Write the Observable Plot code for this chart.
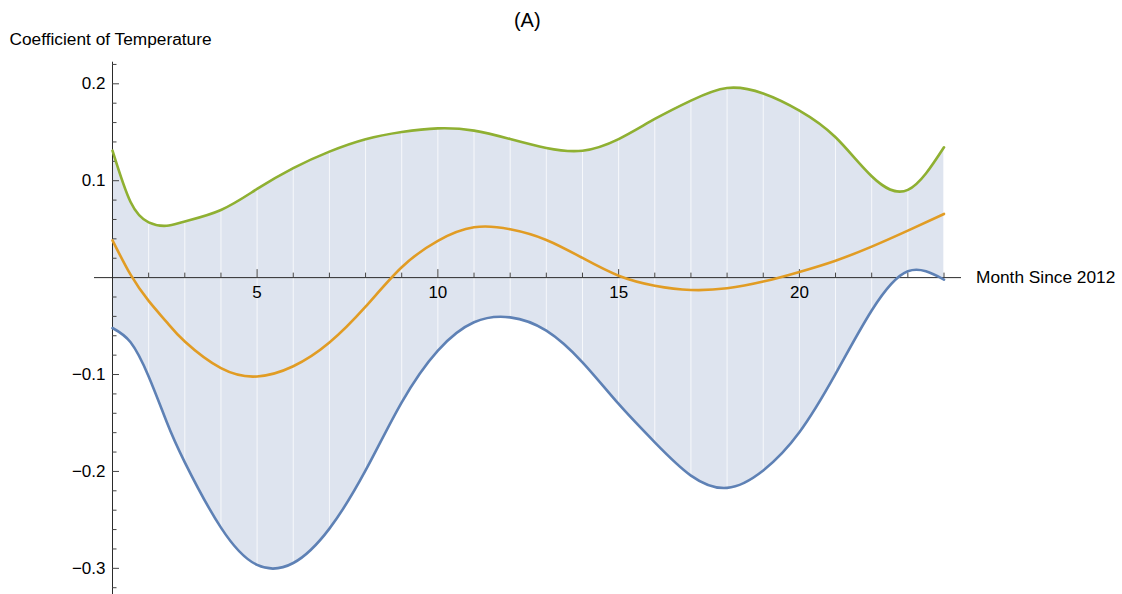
<!DOCTYPE html>
<html>
<head>
<meta charset="utf-8">
<script src="https://cdn.jsdelivr.net/npm/d3@7"></script>
<script src="https://cdn.jsdelivr.net/npm/@observablehq/plot@0.6"></script>
<style>
  body { margin: 0; background: #fff; }
  #chart svg { display: block; }
</style>
</head>
<body>
<div id="chart"></div>
<script>
// Labels
const title = "(A)";
const yLabel = "Coefficient of Temperature";
const xLabel = "Month Since 2012";

// Months since 2012 (half-month samples where the curves bend sharply)
const months = [1, 1.5, 2, 2.5, 3, 4, 5, 6, 7, 8, 9, 10, 11, 12,
                13, 14, 15, 16, 17, 18, 19, 20, 21, 22, 23, 24];

// Upper band (green)
const upper = [0.131, 0.078, 0.057, 0.0535, 0.058, 0.0698, 0.0915, 0.113, 0.130, 0.1428, 0.1503, 0.154, 0.1517, 0.143,
               0.1338, 0.131, 0.143, 0.1637, 0.1827, 0.1957, 0.190, 0.1723, 0.1448, 0.1046, 0.0905, 0.1345];

// Coefficient estimate (orange)
const estimate = [0.0385, 0.003, -0.024, -0.046, -0.066, -0.0935, -0.102, -0.0915, -0.067, -0.030, 0.0107, 0.038, 0.0519, 0.0499,
                  0.0389, 0.0203, 0.002, -0.0083, -0.0127, -0.011, -0.0041, 0.0059, 0.0175, 0.032, 0.0485, 0.0657];

// Lower band (blue)
const lower = [-0.052, -0.0667, -0.102, -0.149, -0.1906, -0.258, -0.2965, -0.2945, -0.259, -0.199, -0.1287, -0.0753, -0.0461, -0.041,
               -0.0547, -0.0874, -0.1304, -0.170, -0.2043, -0.217, -0.199, -0.1596, -0.0994, -0.034, 0.0065, -0.002];

// Axis ticks
const xDomain = [1, 24];
const yDomain = [-0.327, 0.2223];
const xMajorTicks = [5, 10, 15, 20];
const yMajorTicks = [0.2, 0.1, -0.1, -0.2, -0.3];

const rows = months.map((m, i) => ({month: m, upper: upper[i], estimate: estimate[i], lower: lower[i]}));
const wholeMonths = rows.filter(d => Number.isInteger(d.month));

const xMinorTicks = d3.range(2, 25).filter(m => !xMajorTicks.includes(m));
const yMinorTicks = d3.range(-16, 12)
  .map(k => Math.round(k * 2) / 100)
  .filter(v => v !== 0 && !yMajorTicks.some(t => Math.abs(t - v) < 1e-9));

const fmt = d3.format(".1f");
const curve = "natural";
const axisColor = "#2b2b2b";
const tickColor = "#444";
const fs = 17;
const labelSize = 17.3;

const chart = Plot.plot({
  width: 1122,
  height: 594,
  marginLeft: 112,
  marginRight: 178.5,
  marginTop: 61.7,
  marginBottom: 0,
  style: {fontFamily: "'Liberation Sans', Arial, sans-serif", fontSize: "17px", overflow: "visible", background: "#fff"},
  x: {domain: xDomain, axis: null},
  y: {domain: yDomain, axis: null},
  marks: [
    // confidence band, with faint seams at each month
    Plot.areaY(rows, {x: "month", y1: "lower", y2: "upper", curve, fill: "#dee4ef"}),
    Plot.ruleX(wholeMonths, {x: "month", y1: "lower", y2: "upper", stroke: "#fff", strokeOpacity: 0.75, strokeWidth: 1}),

    // axes
    Plot.ruleY([0], {x1: xDomain[0], x2: xDomain[1], insetLeft: -18, insetRight: -17.5, stroke: axisColor}),
    Plot.ruleX([xDomain[0]], {stroke: axisColor}),
    Plot.ruleX(xMajorTicks, {x: d => d, y1: 0, y2: 0, insetTop: -8, stroke: tickColor}),
    Plot.ruleX(xMinorTicks, {x: d => d, y1: 0, y2: 0, insetTop: -4.5, stroke: tickColor}),
    Plot.ruleY(yMajorTicks, {y: d => d, x1: xDomain[0], x2: xDomain[0], insetRight: -7, stroke: tickColor}),
    Plot.ruleY(yMinorTicks, {y: d => d, x1: xDomain[0], x2: xDomain[0], insetRight: -4.5, stroke: tickColor}),
    Plot.text(xMajorTicks, {x: d => d, y: 0, text: d => String(d), dy: 15, fill: "#000", fontSize: fs}),
    Plot.text(yMajorTicks, {x: xDomain[0], y: d => d, text: d => fmt(d), dx: -7, textAnchor: "end", fill: "#000", fontSize: fs}),

    // axis labels and title
    Plot.text([xLabel], {x: xDomain[1], y: 0, text: d => d, dx: 32, textAnchor: "start", fill: "#000", fontSize: labelSize}),
    Plot.text([yLabel], {frameAnchor: "top-left", text: d => d, dx: -103, dy: -22.7, textAnchor: "start", lineAnchor: "middle", fill: "#000", fontSize: labelSize}),
    Plot.text([title], {frameAnchor: "top", text: d => d, dx: -1, dy: -41.5, lineAnchor: "middle", fill: "#000", fontSize: 20}),

    // curves
    Plot.line(rows, {x: "month", y: "lower", curve, stroke: "#5e81b5", strokeWidth: 2.6}),
    Plot.line(rows, {x: "month", y: "estimate", curve, stroke: "#e19c24", strokeWidth: 2.6}),
    Plot.line(rows, {x: "month", y: "upper", curve, stroke: "#8fb032", strokeWidth: 2.6})
  ]
});

document.getElementById("chart").append(chart);
</script>
</body>
</html>
